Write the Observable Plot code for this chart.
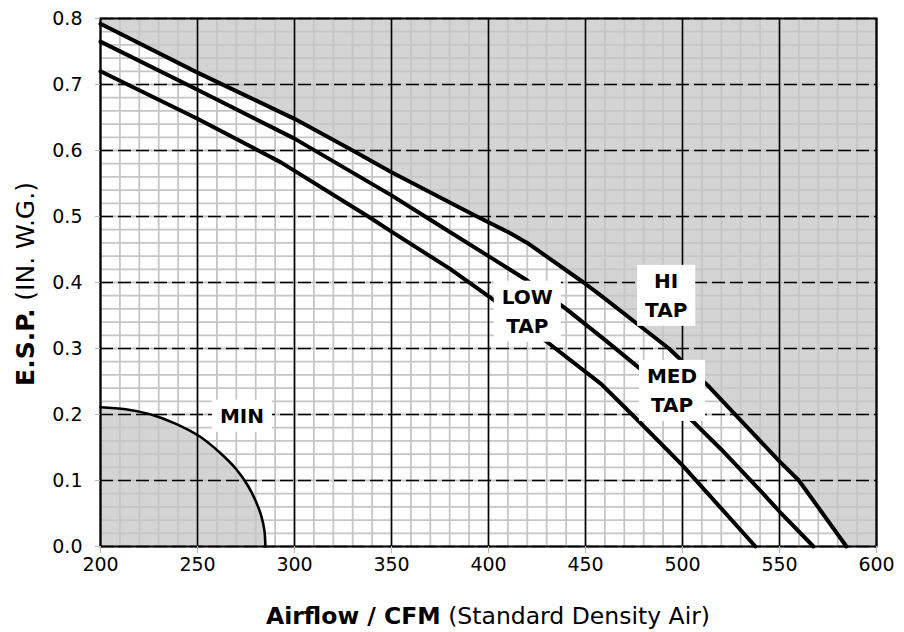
<!DOCTYPE html>
<html><head><meta charset="utf-8">
<script src="https://cdn.jsdelivr.net/npm/d3@7"></script>
<script src="https://cdn.jsdelivr.net/npm/@observablehq/plot@0.6"></script>
<style>
  body { margin: 0; background: #fff; }
  #chart { width: 904px; height: 632px; }
</style>
</head><body><div id="chart"></div>
<script>
// ---- data ----
const hiCfm  = [200, 250, 300, 330, 350, 394, 411, 420, 449, 458, 493, 513, 530, 550, 560, 584.5];
const hiEsp  = [0.792, 0.718, 0.648, 0.600, 0.567, 0.500, 0.475, 0.460, 0.400, 0.380, 0.300, 0.244, 0.191, 0.129, 0.100, 0];
const medCfm = [200, 250, 300, 350, 370, 400, 420, 440, 460, 480, 500, 520, 540, 550, 567.5];
const medEsp = [0.765, 0.692, 0.618, 0.532, 0.495, 0.440, 0.403, 0.360, 0.313, 0.265, 0.205, 0.147, 0.085, 0.053, 0];
const lowCfm = [200, 250, 293, 338, 350, 380, 403, 431, 458, 474, 500, 537.6];
const lowEsp = [0.720, 0.648, 0.582, 0.500, 0.477, 0.421, 0.373, 0.308, 0.2465, 0.200, 0.123, 0];
const minCfm = [200, 213, 226, 238, 251, 262, 270, 276, 280, 283, 284.5, 285];
const minEsp = [0.211, 0.208, 0.200, 0.187, 0.167, 0.141, 0.117, 0.092, 0.069, 0.045, 0.024, 0];

const labelText = ["HI\nTAP", "MED\nTAP", "LOW\nTAP", "MIN"];
const labelCfm  = [491.6, 494.6, 420, 272.9];
const labelEsp  = [0.384, 0.240, 0.360, 0.2015];

const xTicks = [200, 250, 300, 350, 400, 450, 500, 550, 600];
const yTicks = [0, 0.1, 0.2, 0.3, 0.4, 0.5, 0.6, 0.7, 0.8];
const xDomain = [200, 600];
const yDomain = [0, 0.8];

// ---- tables built from the arrays ----
const pts = (xs, ys) => xs.map((x, i) => ({x, y: ys[i]}));
const hi = pts(hiCfm, hiEsp), med = pts(medCfm, medEsp), low = pts(lowCfm, lowEsp), minC = pts(minCfm, minEsp);
const hiArea = hi.concat([{x: xDomain[1], y: yDomain[0]}]);
const labels = labelText.map((t, i) => ({t, x: labelCfm[i], y: labelEsp[i]}));

const FONT = "'DejaVu Sans', sans-serif";
const GRAY = "#d4d4d4";

const plot = Plot.plot({
  width: 904, height: 632,
  marginLeft: 100, marginRight: 28, marginTop: 18, marginBottom: 86,
  style: {fontFamily: FONT, fontSize: "19px", color: "black", background: "white", overflow: "visible"},
  x: {domain: xDomain},
  y: {domain: yDomain},
  marks: [
    Plot.areaY(hiArea, {x: "x", y1: "y", y2: yDomain[1], fill: GRAY}),
    Plot.areaY(minC, {x: "x", y: "y", fill: GRAY, curve: "catmull-rom"}),
    Plot.gridX({interval: 10, stroke: "#c6c6c6", strokeOpacity: 1, strokeWidth: 1.8}),
    Plot.gridY({interval: 0.02, stroke: "#c6c6c6", strokeOpacity: 1, strokeWidth: 1.8}),
    Plot.gridX(xTicks, {stroke: "black", strokeOpacity: 1, strokeWidth: 1.6}),
    Plot.gridY(yTicks, {stroke: "black", strokeOpacity: 1, strokeWidth: 1.6, strokeDasharray: "13,5"}),
    Plot.frame({stroke: "black", strokeWidth: 2}),
    Plot.line(hi, {x: "x", y: "y", stroke: "black", strokeWidth: 4}),
    Plot.line(med, {x: "x", y: "y", stroke: "black", strokeWidth: 4}),
    Plot.line(low, {x: "x", y: "y", stroke: "black", strokeWidth: 4}),
    Plot.line(minC, {x: "x", y: "y", stroke: "black", strokeWidth: 2.6, curve: "catmull-rom"}),
    Plot.axisX(xTicks, {tickSize: 7, tickPadding: 4, stroke: "#b8b8b8", fill: "black", tickFormat: "d", label: null, fontSize: 19}),
    Plot.axisY(yTicks, {tickSize: 5, tickPadding: 13, stroke: "#b8b8b8", fill: "black", tickFormat: ".1f", label: null, fontSize: 19}),
    Plot.text(labels, {x: "x", y: "y", text: "t", fontWeight: "bold", fontSize: 20, lineHeight: 1.45, fill: "black"})
  ]
});

document.getElementById("chart").appendChild(plot);

// white boxes behind the curve labels
const svg = d3.select(plot);
const wanted = new Set(labelText.map(t => t.replace("\n", "")));
svg.selectAll("text").each(function () {
  if (!wanted.has(this.textContent)) return;
  const b = this.getBBox();
  const padX = 8, padY = 4;
  const r = d3.select(this.parentNode).insert("rect", () => this)
    .attr("x", b.x - padX).attr("y", b.y - padY)
    .attr("width", b.width + 2 * padX).attr("height", b.height + 2 * padY)
    .attr("fill", "white").attr("stroke", "none");
  const tr = this.getAttribute("transform");
  if (tr) r.attr("transform", tr);
});

// axis titles (bold + regular parts)
const W = 904, H = 632, mL = 100, mR = 28, mT = 18, mB = 86;
const xt = svg.append("text").attr("x", (mL + W - mR) / 2).attr("y", 624)
  .attr("text-anchor", "middle").style("font-family", FONT).style("font-size", "23.5px").attr("fill", "black");
xt.append("tspan").attr("font-weight", "bold").text("Airflow / CFM");
xt.append("tspan").text(" (Standard Density Air)");

const yt = svg.append("text").attr("transform", `translate(34,${(mT + H - mB) / 2 + 2}) rotate(-90)`)
  .attr("text-anchor", "middle").style("font-family", FONT).style("font-size", "25px").attr("fill", "black");
yt.append("tspan").attr("font-weight", "bold").text("E.S.P.");
yt.append("tspan").text(" (IN. W.G.)");
</script>
</body></html>
